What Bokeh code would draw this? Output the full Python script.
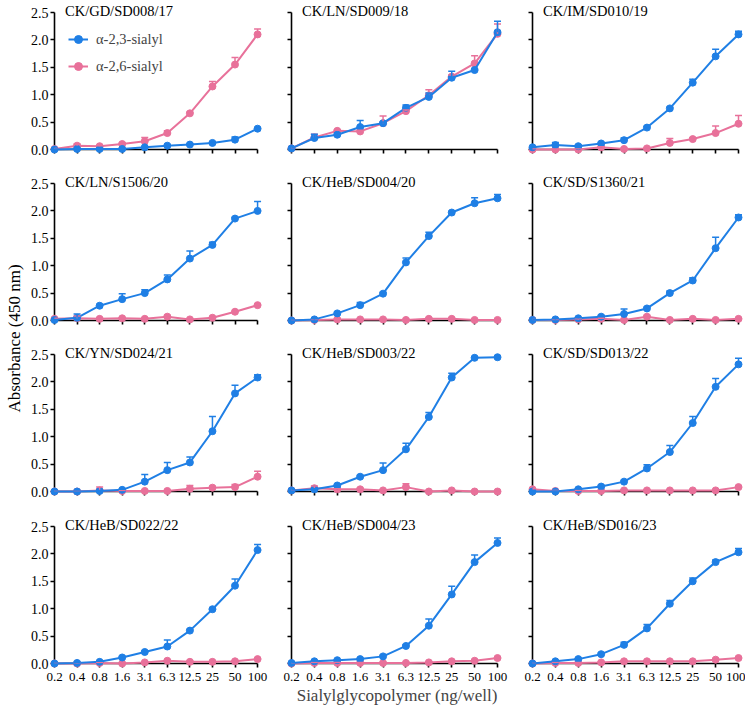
from math import pi
from bokeh.plotting import figure
from bokeh.models import (ColumnDataSource, Range1d, FixedTicker, PrintfTickFormatter,
                          Label, Legend, LegendItem, Whisker, TeeHead)
from bokeh.layouts import row, column
from bokeh.embed import file_html
from bokeh.resources import INLINE

# ---------------- data ----------------
conc_labels = ["0.2", "0.4", "0.8", "1.6", "3.1", "6.3", "12.5", "25", "50", "100"]
y_ticks = [0.0, 0.5, 1.0, 1.5, 2.0, 2.5]
series_labels = ["α-2,3-sialyl", "α-2,6-sialyl"]
x_title = "Sialylglycopolymer (ng/well)"
y_title = "Absorbance (450 nm)"

strains = ["CK/GD/SD008/17", "CK/LN/SD009/18", "CK/IM/SD010/19",
           "CK/LN/S1506/20", "CK/HeB/SD004/20", "CK/SD/S1360/21",
           "CK/YN/SD024/21", "CK/HeB/SD003/22", "CK/SD/SD013/22",
           "CK/HeB/SD022/22", "CK/HeB/SD004/23", "CK/HeB/SD016/23"]

a23_mean = [
    [0.00, 0.01, 0.01, 0.01, 0.04, 0.07, 0.09, 0.12, 0.18, 0.38],
    [0.02, 0.21, 0.27, 0.41, 0.48, 0.76, 0.96, 1.31, 1.45, 2.14],
    [0.04, 0.08, 0.06, 0.11, 0.17, 0.40, 0.75, 1.22, 1.70, 2.10],
    [0.01, 0.05, 0.27, 0.39, 0.50, 0.75, 1.13, 1.38, 1.86, 2.00],
    [0.00, 0.02, 0.13, 0.28, 0.49, 1.06, 1.54, 1.97, 2.14, 2.23],
    [0.01, 0.02, 0.04, 0.07, 0.12, 0.22, 0.50, 0.73, 1.32, 1.88],
    [0.00, 0.00, 0.01, 0.03, 0.18, 0.39, 0.53, 1.10, 1.79, 2.08],
    [0.02, 0.04, 0.11, 0.27, 0.39, 0.77, 1.36, 2.08, 2.44, 2.45],
    [0.00, 0.00, 0.04, 0.09, 0.18, 0.42, 0.72, 1.25, 1.91, 2.32],
    [0.00, 0.01, 0.03, 0.11, 0.21, 0.31, 0.60, 0.99, 1.42, 2.07],
    [0.01, 0.04, 0.06, 0.08, 0.13, 0.32, 0.69, 1.26, 1.85, 2.20],
    [0.00, 0.04, 0.08, 0.17, 0.34, 0.64, 1.09, 1.50, 1.85, 2.03],
]
a23_sd = [
    [0.01, 0.01, 0.01, 0.01, 0.01, 0.01, 0.01, 0.02, 0.05, 0.01],
    [0.01, 0.07, 0.02, 0.12, 0.02, 0.05, 0.07, 0.12, 0.03, 0.20],
    [0.01, 0.05, 0.02, 0.02, 0.04, 0.02, 0.02, 0.06, 0.13, 0.06],
    [0.01, 0.07, 0.02, 0.10, 0.06, 0.08, 0.14, 0.05, 0.02, 0.17],
    [0.01, 0.01, 0.02, 0.05, 0.02, 0.08, 0.07, 0.02, 0.10, 0.07],
    [0.01, 0.01, 0.01, 0.02, 0.09, 0.02, 0.04, 0.05, 0.20, 0.05],
    [0.01, 0.01, 0.01, 0.01, 0.13, 0.14, 0.10, 0.27, 0.15, 0.05],
    [0.01, 0.01, 0.02, 0.02, 0.13, 0.11, 0.08, 0.08, 0.02, 0.02],
    [0.01, 0.01, 0.01, 0.02, 0.02, 0.07, 0.12, 0.12, 0.15, 0.11],
    [0.01, 0.01, 0.01, 0.02, 0.02, 0.12, 0.02, 0.02, 0.12, 0.10],
    [0.01, 0.01, 0.01, 0.01, 0.02, 0.02, 0.12, 0.15, 0.13, 0.09],
    [0.01, 0.01, 0.01, 0.02, 0.05, 0.07, 0.06, 0.06, 0.04, 0.07],
]
a26_mean = [
    [0.01, 0.07, 0.06, 0.10, 0.15, 0.30, 0.66, 1.15, 1.55, 2.10],
    [0.02, 0.22, 0.34, 0.33, 0.48, 0.70, 0.99, 1.33, 1.57, 2.11],
    [0.00, 0.00, 0.00, 0.04, 0.01, 0.02, 0.12, 0.19, 0.30, 0.47],
    [0.03, 0.04, 0.03, 0.04, 0.03, 0.07, 0.02, 0.05, 0.16, 0.28],
    [0.00, 0.01, 0.02, 0.02, 0.02, 0.01, 0.03, 0.03, 0.01, 0.01],
    [0.01, 0.01, 0.02, 0.03, 0.01, 0.07, 0.01, 0.03, 0.01, 0.03],
    [0.00, 0.00, 0.02, 0.01, 0.01, 0.01, 0.05, 0.07, 0.08, 0.27],
    [0.02, 0.06, 0.04, 0.04, 0.02, 0.08, 0.00, 0.02, 0.00, 0.00],
    [0.04, 0.01, 0.01, 0.01, 0.02, 0.02, 0.02, 0.02, 0.02, 0.08],
    [0.00, 0.00, 0.01, 0.00, 0.02, 0.05, 0.03, 0.03, 0.04, 0.08],
    [0.00, 0.01, 0.01, 0.01, 0.01, 0.01, 0.02, 0.04, 0.05, 0.10],
    [0.00, 0.01, 0.01, 0.02, 0.04, 0.04, 0.04, 0.04, 0.07, 0.10],
]
a26_sd = [
    [0.01, 0.03, 0.01, 0.02, 0.07, 0.04, 0.02, 0.09, 0.13, 0.10],
    [0.01, 0.06, 0.02, 0.02, 0.13, 0.02, 0.10, 0.03, 0.14, 0.18],
    [0.01, 0.01, 0.01, 0.01, 0.01, 0.01, 0.08, 0.02, 0.13, 0.15],
    [0.01, 0.04, 0.01, 0.01, 0.01, 0.02, 0.01, 0.01, 0.01, 0.01],
    [0.01, 0.01, 0.01, 0.01, 0.01, 0.01, 0.01, 0.01, 0.01, 0.01],
    [0.01, 0.01, 0.01, 0.01, 0.01, 0.02, 0.01, 0.01, 0.01, 0.01],
    [0.01, 0.01, 0.06, 0.01, 0.01, 0.01, 0.06, 0.02, 0.05, 0.10],
    [0.01, 0.04, 0.01, 0.02, 0.01, 0.06, 0.01, 0.01, 0.01, 0.01],
    [0.01, 0.01, 0.01, 0.01, 0.01, 0.01, 0.01, 0.01, 0.01, 0.01],
    [0.01, 0.01, 0.01, 0.01, 0.01, 0.01, 0.01, 0.01, 0.01, 0.01],
    [0.01, 0.01, 0.01, 0.01, 0.01, 0.01, 0.01, 0.01, 0.01, 0.01],
    [0.01, 0.01, 0.01, 0.01, 0.01, 0.01, 0.01, 0.01, 0.01, 0.01],
]

# ---------------- style / layout ----------------
FONT = "'Liberation Serif', 'Times New Roman', serif"
BLUE = "#1F7FE5"
PINK = "#E8719A"
DATA_W, DATA_H = 206, 137     # pixel span of x 0.2..100 and y 0..2.5
RPAD, TPAD = 5, 12            # frame room right of last point / above 2.5
col_lb, col_rb = [24, 15, 15], [14, 15, 2]
row_tb, row_bb = [0, 10, 10, 11], [12, 12, 12, 48]
YLAB_W = 27
YLAB_CENTER = 338
NROW, NCOL = 4, 3

xs = list(range(len(conc_labels)))
y_max = y_ticks[-1]
px_x = DATA_W / (xs[-1] - xs[0])
px_y = DATA_H / y_max


def hide_labels(ax):
    ax.major_label_text_color = None
    ax.major_label_text_font_size = "1px"
    ax.major_label_standoff = 0


def make_panel(k):
    r, c = divmod(k, NCOL)
    p = figure(width=col_lb[c] + DATA_W + RPAD + col_rb[c],
               height=row_tb[r] + TPAD + DATA_H + row_bb[r],
               x_range=Range1d(xs[0], xs[-1] + RPAD / px_x),
               y_range=Range1d(0, y_max + TPAD / px_y),
               min_border_left=col_lb[c], min_border_right=col_rb[c],
               min_border_top=row_tb[r], min_border_bottom=row_bb[r],
               title=None, toolbar_location=None, output_backend="svg")
    p.outline_line_color = None
    p.xgrid.visible = False
    p.ygrid.visible = False
    p.background_fill_color = "white"
    p.border_fill_color = "white"

    for ax in (p.xaxis[0], p.yaxis[0]):
        ax.axis_line_width = 1.6
        ax.major_tick_line_width = 1.6
        ax.major_tick_out = 4
        ax.major_tick_in = 0
        ax.minor_tick_out = 0
        ax.minor_tick_in = 0
        ax.major_label_text_font = FONT
        ax.major_label_text_color = "black"

    xa = p.xaxis[0]
    xa.ticker = FixedTicker(ticks=xs)
    xa.major_label_overrides = {i: lab for i, lab in zip(xs, conc_labels)}
    xa.bounds = (xs[0], xs[-1])
    if r == NROW - 1:
        xa.major_label_standoff = 5
        xa.major_label_text_font_size = "13px"
    else:
        hide_labels(xa)
    if r == NROW - 1 and c == 1:
        xa.axis_label = x_title
        xa.axis_label_text_font = FONT
        xa.axis_label_text_font_size = "17px"
        xa.axis_label_text_font_style = "normal"
        xa.axis_label_standoff = 2

    ya = p.yaxis[0]
    ya.ticker = FixedTicker(ticks=y_ticks)
    ya.formatter = PrintfTickFormatter(format="%.1f")
    ya.bounds = (0, y_max)
    if c == 0:
        ya.major_label_standoff = 2
        ya.major_label_text_font_size = "14px"
    else:
        hide_labels(ya)

    rends = {}
    for name, mean, sd, color in (("a26", a26_mean[k], a26_sd[k], PINK),
                                  ("a23", a23_mean[k], a23_sd[k], BLUE)):
        src = ColumnDataSource(dict(x=xs, y=mean,
                                    up=[m + s for m, s in zip(mean, sd)]))
        p.add_layout(Whisker(source=src, base="x", lower="y", upper="up",
                             dimension="height", line_color=color, line_width=1.5,
                             lower_head=None, level="overlay",
                             upper_head=TeeHead(size=7, line_color=color, line_width=1.5)))
        ln = p.line("x", "y", source=src, line_color=color, line_width=2, level="overlay")
        sc = p.scatter("x", "y", source=src, marker="circle", size=7,
                       fill_color=color, line_color=color, level="overlay")
        rends[name] = [ln, sc]

    p.add_layout(Label(x=xs[0], y=y_max + 2 / px_y, x_offset=10.5, text=strains[k],
                       text_font=FONT, text_font_size="14.5px",
                       text_baseline="middle", text_align="left", text_color="black"))

    if k == 0:
        leg = Legend(items=[LegendItem(label=series_labels[0], renderers=rends["a23"]),
                            LegendItem(label=series_labels[1], renderers=rends["a26"])],
                     location=(14, 73), padding=0, margin=0, spacing=7,
                     glyph_width=20, glyph_height=20, label_height=20,
                     label_standoff=8, label_text_font=FONT,
                     label_text_font_size="14.5px",
                     border_line_color=None, background_fill_alpha=0)
        p.add_layout(leg)
    return p


panels = [make_panel(k) for k in range(NROW * NCOL)]
rows = [row(panels[r * NCOL:(r + 1) * NCOL]) for r in range(NROW)]
grid = column(rows)

total_h = sum(row_tb) + sum(row_bb) + NROW * (TPAD + DATA_H)

ylab = figure(width=YLAB_W, height=total_h, x_range=Range1d(0, YLAB_W),
              y_range=Range1d(0, total_h), x_axis_location=None, y_axis_location=None,
              min_border=0, title=None, toolbar_location=None, output_backend="svg")
ylab.outline_line_color = None
ylab.xgrid.visible = False
ylab.ygrid.visible = False
ylab.add_layout(Label(x=YLAB_W / 2, y=total_h - YLAB_CENTER, text=y_title, angle=pi / 2,
                      text_font=FONT, text_font_size="17px", text_align="center",
                      text_baseline="middle", text_color="black"))

page = row(ylab, grid)
open("out.html", "w").write(file_html(page, INLINE))
